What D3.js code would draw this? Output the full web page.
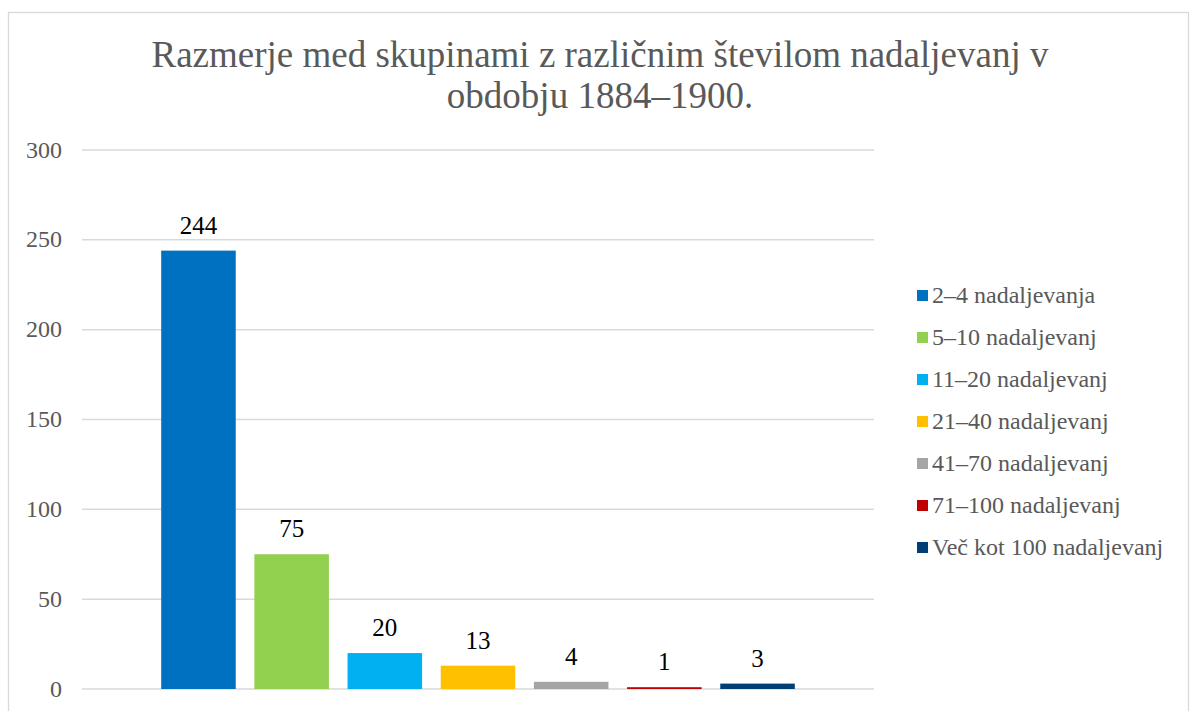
<!DOCTYPE html>
<html>
<head>
<meta charset="utf-8">
<script src="https://cdn.jsdelivr.net/npm/d3@7"></script>
<style>
  body { margin: 0; background: #fff; }
  text { font-family: "Liberation Serif", "Times New Roman", serif; }
</style>
</head>
<body>
<div id="chart"></div>
<script>
var titleLines = ['Razmerje med skupinami z različnim številom nadaljevanj v', 'obdobju 1884–1900.'];
var series = ['2–4 nadaljevanja', '5–10 nadaljevanj', '11–20 nadaljevanj', '21–40 nadaljevanj',
              '41–70 nadaljevanj', '71–100 nadaljevanj', 'Več kot 100 nadaljevanj'];
var values = [244, 75, 20, 13, 4, 1, 3];
var colors = ['#0070c0', '#92d050', '#00b0f0', '#ffc000', '#a5a5a5', '#c00000', '#003f73'];
var yTicks = [0, 50, 100, 150, 200, 250, 300];

var W = 1192, H = 711;
var margin = {top: 150, right: 318, bottom: 22, left: 82};

var svg = d3.select('#chart').append('svg')
    .attr('width', W)
    .attr('height', H);

// chart area border
svg.append('rect')
    .attr('x', 8.5).attr('y', 12.5)
    .attr('width', 1180).attr('height', 720)
    .attr('fill', '#fff')
    .attr('stroke', '#d9d9d9')
    .attr('stroke-width', 1.3);

var title = svg.append('text')
    .attr('text-anchor', 'middle')
    .attr('fill', '#595959')
    .attr('font-size', 37);
titleLines.forEach(function(t, i) {
    title.append('tspan')
        .attr('x', 600)
        .attr('y', 67 + i * 41)
        .text(t);
});

var width = W - margin.left - margin.right,
    height = H - margin.top - margin.bottom;

var g = svg.append('g')
    .attr('transform', 'translate(' + margin.left + ',' + margin.top + ')');

var y = d3.scaleLinear()
    .domain([0, 300])
    .range([height, 0]);

var x = d3.scaleBand()
    .domain(series)
    .range([0, width])
    .paddingInner(0.2)
    .paddingOuter(0.85);

// gridlines
g.append('g')
    .selectAll('line')
    .data(yTicks)
    .enter().append('line')
    .attr('x1', 0).attr('x2', width)
    .attr('y1', d => y(d)).attr('y2', d => y(d))
    .attr('stroke', '#d9d9d9')
    .attr('stroke-width', 1.5);

// y axis labels
g.append('g')
    .selectAll('text')
    .data(yTicks)
    .enter().append('text')
    .attr('x', -20)
    .attr('y', d => y(d) + 7.5)
    .attr('text-anchor', 'end')
    .attr('fill', '#595959')
    .attr('font-size', 24)
    .text(d => d);

// bars
g.selectAll('.bar')
    .data(values)
    .enter().append('rect')
    .attr('class', 'bar')
    .attr('x', (d, i) => x(series[i]))
    .attr('y', d => y(d))
    .attr('width', x.bandwidth())
    .attr('height', d => height - y(d))
    .attr('fill', (d, i) => colors[i]);

// data labels
g.selectAll('.label')
    .data(values)
    .enter().append('text')
    .attr('class', 'label')
    .attr('x', (d, i) => x(series[i]) + x.bandwidth() / 2)
    .attr('y', d => y(d) - 17)
    .attr('text-anchor', 'middle')
    .attr('fill', '#000')
    .attr('font-size', 25)
    .text(d => d);

// legend
var legend = svg.append('g')
    .attr('transform', 'translate(917, 295.5)');

var item = legend.selectAll('.item')
    .data(series)
    .enter().append('g')
    .attr('class', 'item')
    .attr('transform', (d, i) => 'translate(0,' + (i * 42) + ')');

item.append('rect')
    .attr('x', 0).attr('y', -5.5)
    .attr('width', 11).attr('height', 11)
    .attr('fill', (d, i) => colors[i]);

item.append('text')
    .attr('x', 15)
    .attr('y', 7.5)
    .attr('fill', '#595959')
    .attr('font-size', 24)
    .text(d => d);
</script>
</body>
</html>
